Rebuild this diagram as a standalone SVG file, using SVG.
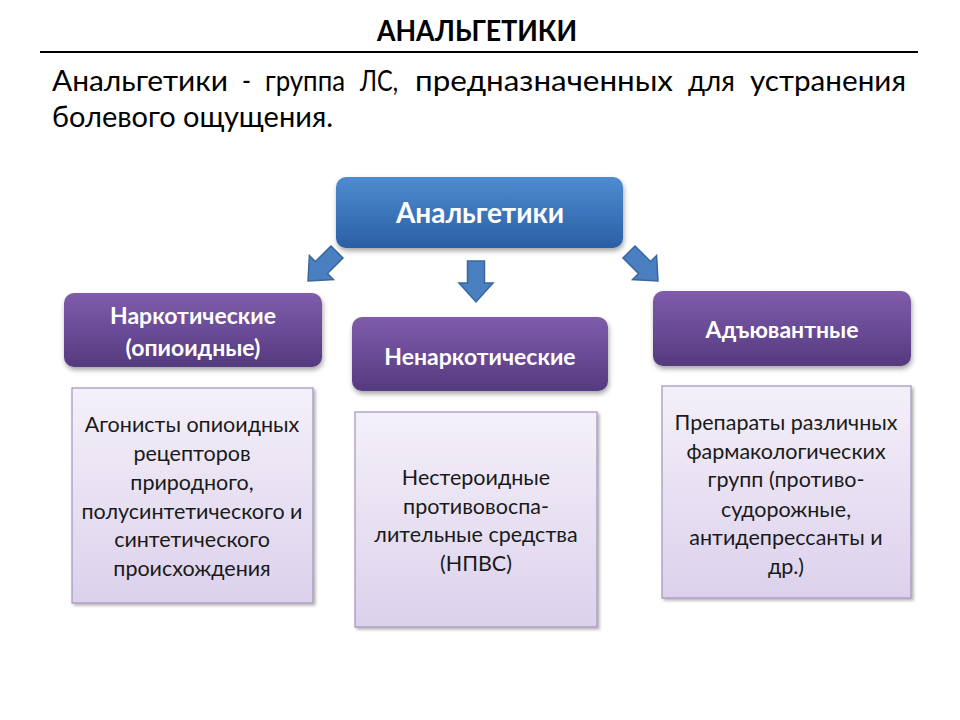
<svg xmlns="http://www.w3.org/2000/svg" width="960" height="720" viewBox="0 0 960 720">
<defs>
<linearGradient id="gBlue" x1="0" y1="0" x2="0" y2="1">
<stop offset="0" stop-color="#4f8bd0"/>
<stop offset="1" stop-color="#2a5fa5"/>
</linearGradient>
<linearGradient id="gPurple" x1="0" y1="0" x2="0" y2="1">
<stop offset="0" stop-color="#7f5cab"/>
<stop offset="1" stop-color="#553a80"/>
</linearGradient>
<linearGradient id="gLav" x1="0" y1="0" x2="0" y2="1">
<stop offset="0" stop-color="#f4f0f9"/>
<stop offset="1" stop-color="#dcd1ec"/>
</linearGradient>
<filter id="sh" x="-10%" y="-10%" width="125%" height="135%">
<feDropShadow dx="1" dy="3" stdDeviation="2.5" flood-color="#000" flood-opacity="0.35"/>
</filter>
<filter id="sh2" x="-10%" y="-10%" width="125%" height="125%">
<feDropShadow dx="2" dy="2" stdDeviation="1.5" flood-color="#000" flood-opacity="0.3"/>
</filter>
<polygon id="arr" points="-8.5,0 8.5,0 8.5,22 17,22 0,41 -17,22 -8.5,22"/>
</defs>
<style>
.ttl{font-family:Lato,"Liberation Sans",sans-serif;font-weight:bold;font-size:28px;fill:#000}
.para{font-family:Lato,"Liberation Sans",sans-serif;font-size:29px;fill:#000}
.hb{font-family:Lato,"Liberation Sans",sans-serif;font-weight:bold;fill:#fff;text-anchor:middle}
.body{font-family:Lato,"Liberation Sans",sans-serif;font-size:21.5px;fill:#1a1a1a;text-anchor:middle}
.arrow{fill:#4a7fc0;stroke:#3a669e;stroke-width:1.5}
.pbox{fill:url(#gPurple);filter:url(#sh)}
.lbox{fill:url(#gLav);stroke:#a592bf;stroke-width:1.2;filter:url(#sh2)}
</style>
<rect width="960" height="720" fill="#fff"/>
<g id="header">
<text class="ttl" x="477" y="41" text-anchor="middle" textLength="200" lengthAdjust="spacingAndGlyphs">АНАЛЬГЕТИКИ</text>
<line x1="40" y1="52" x2="918" y2="52" stroke="#000" stroke-width="2"/>
<text class="para" y="91"><tspan x="52" textLength="176" lengthAdjust="spacingAndGlyphs">Анальгетики</tspan><tspan x="242" textLength="9" lengthAdjust="spacingAndGlyphs">-</tspan><tspan x="265" textLength="80" lengthAdjust="spacingAndGlyphs">группа</tspan><tspan x="360" textLength="38" lengthAdjust="spacingAndGlyphs">ЛС,</tspan><tspan x="415" textLength="258" lengthAdjust="spacingAndGlyphs">предназначенных</tspan><tspan x="688" textLength="47" lengthAdjust="spacingAndGlyphs">для</tspan><tspan x="750" textLength="156" lengthAdjust="spacingAndGlyphs">устранения</tspan></text>
<text class="para" x="52" y="127" textLength="281" lengthAdjust="spacingAndGlyphs">болевого ощущения.</text>
</g>
<g id="connectors">
<use href="#arr" class="arrow" transform="translate(337,252) rotate(45)"/>
<use href="#arr" class="arrow" transform="translate(476,261)"/>
<use href="#arr" class="arrow" transform="translate(629,252) rotate(-45)"/>
</g>
<g id="root">
<rect x="336" y="177" width="287" height="71" rx="10" fill="url(#gBlue)" filter="url(#sh)"/>
<text class="hb" x="480" y="223" font-size="28">Анальгетики</text>
</g>
<g id="narcotic">
<rect class="pbox" x="64" y="293" width="258" height="74" rx="10"/>
<text class="hb" x="193" y="324" font-size="23">Наркотические</text>
<text class="hb" x="193" y="356" font-size="23">(опиоидные)</text>
</g>
<g id="nonnarcotic">
<rect class="pbox" x="352" y="317" width="256" height="74" rx="10"/>
<text class="hb" x="480" y="365" font-size="23">Ненаркотические</text>
</g>
<g id="adjuvant">
<rect class="pbox" x="653" y="291" width="258" height="75" rx="10"/>
<text class="hb" x="782" y="338" font-size="23">Адъювантные</text>
</g>
<g id="narcotic-desc">
<rect class="lbox" x="72" y="388" width="241" height="215"/>
<text class="body" x="192" y="432">Агонисты опиоидных</text>
<text class="body" x="192" y="461">рецепторов</text>
<text class="body" x="192" y="490">природного,</text>
<text class="body" x="192" y="519">полусинтетического и</text>
<text class="body" x="192" y="547">синтетического</text>
<text class="body" x="192" y="576">происхождения</text>
</g>
<g id="nonnarcotic-desc">
<rect class="lbox" x="355" y="412" width="242" height="215"/>
<text class="body" x="476" y="485">Нестероидные</text>
<text class="body" x="476" y="514">противовоспа-</text>
<text class="body" x="476" y="542">лительные средства</text>
<text class="body" x="476" y="571">(НПВС)</text>
</g>
<g id="adjuvant-desc">
<rect class="lbox" x="662" y="386" width="249" height="212"/>
<text class="body" x="786" y="430">Препараты различных</text>
<text class="body" x="786" y="459">фармакологических</text>
<text class="body" x="786" y="487">групп (противо-</text>
<text class="body" x="786" y="517">судорожные,</text>
<text class="body" x="786" y="545">антидепрессанты и</text>
<text class="body" x="786" y="574">др.)</text>
</g>
</svg>
